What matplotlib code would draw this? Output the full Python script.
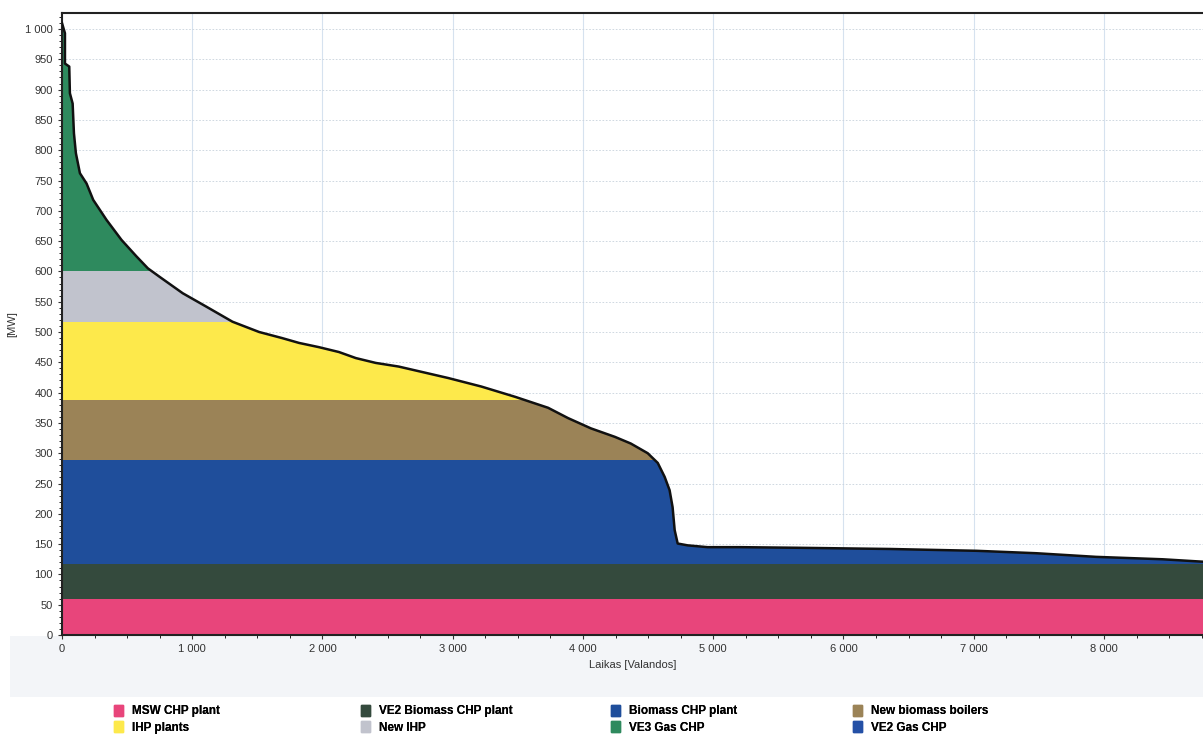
import matplotlib
matplotlib.use("Agg")
import matplotlib.pyplot as plt
from matplotlib.patches import Polygon, Rectangle
from matplotlib.ticker import FuncFormatter, MultipleLocator
import numpy as np

plt.rcParams['font.family'] = ['Liberation Sans', 'DejaVu Sans']

# load duration curve
hours = [0, 23, 23, 56, 61, 82, 92, 107, 138, 189, 240, 342, 457, 571, 660, 750,
         927, 1107, 1309, 1514, 1690, 1820, 1973, 2126, 2256, 2409, 2585, 2967,
         3220, 3480, 3732, 3885, 4061, 4245, 4367, 4497, 4574, 4627, 4665, 4688,
         4704, 4727, 4803, 4956, 5208, 5644, 6356, 7021, 7480, 7939, 8451, 8760]
load_mw = [1010, 993, 943, 938, 894, 877, 828, 795, 762, 745, 718, 685, 652, 625, 605, 591,
           564, 542, 517, 500, 490, 482, 475, 467, 457, 449, 443, 424,
           410, 393, 375, 358, 341, 327, 316, 300, 284, 261, 239, 211,
           173, 151, 148, 145, 145, 144, 142, 139, 135, 129, 125, 121]

# dispatch order (bottom to top) and capacity of each unit, MW
units = ['MSW CHP plant', 'VE2 Biomass CHP plant', 'VE2 Gas CHP', 'Biomass CHP plant',
         'New biomass boilers', 'IHP plants', 'New IHP', 'VE3 Gas CHP']
capacity = [60, 58, 0, 170, 100, 128, 84, 500]
colors = {
    'MSW CHP plant': '#E8457B',
    'VE2 Biomass CHP plant': '#344A3D',
    'VE2 Gas CHP': '#2450A6',
    'Biomass CHP plant': '#1F4E9B',
    'New biomass boilers': '#9B8357',
    'IHP plants': '#FDE94B',
    'New IHP': '#C1C3CD',
    'VE3 Gas CHP': '#2E8A5E',
}
# legend columns as in the picture
legend_cols = [['MSW CHP plant', 'IHP plants'],
               ['VE2 Biomass CHP plant', 'New IHP'],
               ['Biomass CHP plant', 'VE3 Gas CHP'],
               ['New biomass boilers', 'VE2 Gas CHP']]
legend_x = [114, 361, 611, 853]  # pixel x of each column

W, H = 1203, 735
fig = plt.figure(figsize=(W / 100, H / 100), dpi=100)

# faint band behind the x tick labels
fig.add_artist(Rectangle((10 / W, 1 - 697 / H), 1, 61 / H, transform=fig.transFigure,
                         facecolor='#F3F5F8', edgecolor='none', zorder=0))

ax = fig.add_axes([0.0515, 0.136, 0.9485, 0.846])

# area under the curve, used to clip the bands
area = Polygon(list(zip(hours, load_mw)) + [(hours[-1], 0), (0, 0)],
               closed=True, facecolor='none', edgecolor='none', transform=ax.transData)
ax.add_patch(area)

handles = {}
lo = 0
for name, cap in zip(units, capacity):
    hi = lo + cap
    band = ax.fill_between([0, 8760], lo, hi, color=colors[name], linewidth=0, zorder=2)
    band.set_clip_path(area)
    handles[name] = plt.Rectangle((0, 0), 1, 1, color=colors[name])
    lo = hi

ax.plot(hours, load_mw, color='#111111', linewidth=1.8, zorder=3)

ax.set_xlim(0, 8760)
ax.set_ylim(0, 1026)
ax.yaxis.set_major_locator(MultipleLocator(50))
ax.xaxis.set_major_locator(MultipleLocator(1000))
ax.xaxis.set_minor_locator(MultipleLocator(250))
ax.yaxis.set_minor_locator(MultipleLocator(10))
fmt = FuncFormatter(lambda v, p: f'{int(v):,}'.replace(',', ' '))
ax.xaxis.set_major_formatter(fmt)
ax.yaxis.set_major_formatter(fmt)
ax.tick_params(axis='both', labelsize=8, colors='#333333', length=3)
ax.tick_params(axis='both', which='minor', length=2)

ax.grid(axis='x', which='major', color='#D6E2EF', linewidth=0.8, zorder=0)
ax.grid(axis='y', which='major', color='#C8D2DC', linewidth=0.6, linestyle=(0, (2, 2)), zorder=0)
ax.set_axisbelow(True)

for side in ['left', 'bottom', 'top']:
    ax.spines[side].set_linewidth(1.5)
    ax.spines[side].set_color('#222222')
ax.spines['right'].set_visible(False)

ax.set_ylabel('[MW]', fontsize=8, color='#333333', labelpad=6)
ax.set_xlabel('Laikas [Valandos]', fontsize=8, color='#333333', labelpad=4)

for names, px in zip(legend_cols, legend_x):
    leg = fig.legend([handles[n] for n in names], names, loc='upper left',
                     bbox_to_anchor=(px / W, 1 - 705 / H), frameon=False, borderpad=0,
                     borderaxespad=0, prop={'weight': 'bold', 'size': 8.5},
                     handlelength=0.8, handleheight=1.0, handletextpad=0.7,
                     labelspacing=0.35)
    fig.add_artist(leg)

fig.savefig('out.png', dpi=100)
